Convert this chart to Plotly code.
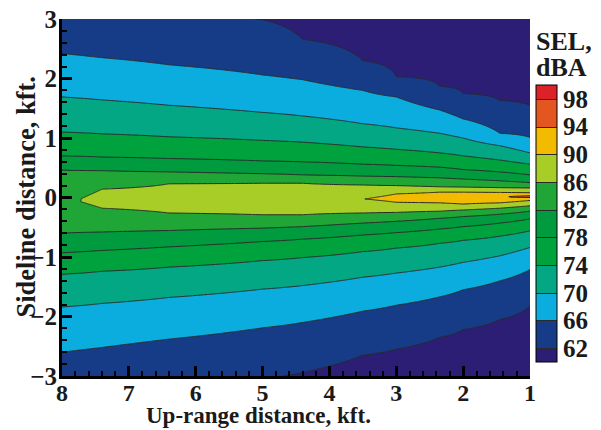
import numpy as np
import plotly.graph_objects as go

# ---- data ----
# x columns (kft up-range) at which contour crossings were read
cols_x = [8, 7.4, 6.4, 5, 4.4, 3.5, 3, 2.35, 2, 1.45, 1]
levels = [62, 66, 70, 74, 78, 82, 86, 90, 94]
cbar_ticks = [62, 66, 70, 74, 78, 82, 86, 90, 94, 98]

# y (kft) of each SEL level crossing above the centreline, per column (None = absent)
upper_62 = [None, None, None, None, 2.66, 2.30, 2.03, 1.87, 1.75, 1.63, 1.55]
upper_66 = [2.42, 2.35, 2.23, 2.06, 1.98, 1.80, 1.69, 1.47, 1.32, 1.08, 1.01]
upper_70 = [1.69, 1.64, 1.55, 1.43, 1.37, 1.24, 1.17, 1.08, 1.00, 0.87, 0.75]
upper_74 = [1.10, 1.07, 1.02, 0.96, 0.93, 0.85, 0.81, 0.75, 0.70, 0.63, 0.56]
upper_78 = [0.70, 0.68, 0.655, 0.615, 0.60, 0.56, 0.54, 0.51, 0.47, 0.43, 0.38]
upper_82 = [0.46, 0.45, 0.43, 0.40, 0.38, 0.36, 0.35, 0.33, 0.31, 0.28, 0.25]
upper_86 = [None, 0.14, 0.23, 0.24, 0.24, 0.21, 0.20, 0.18, 0.175, 0.165, 0.16]
upper_90 = [None, None, None, None, None, None, 0.06, 0.09, 0.09, 0.085, 0.08]
upper_94 = [None, None, None, None, None, None, None, None, None, None, 0.03]

# y (kft) of each level crossing below the centreline
lower_62 = [None, None, None, None, -2.94, -2.65, -2.55, -2.35, -2.22, -2.05, -1.82]
lower_66 = [-2.60, -2.52, -2.38, -2.19, -2.10, -1.91, -1.81, -1.67, -1.55, -1.40, -1.21]
lower_70 = [-1.84, -1.78, -1.68, -1.54, -1.48, -1.34, -1.27, -1.17, -1.09, -0.98, -0.84]
lower_74 = [-1.29, -1.24, -1.17, -1.06, -1.01, -0.91, -0.85, -0.77, -0.72, -0.65, -0.56]
lower_78 = [-0.93, -0.89, -0.83, -0.74, -0.70, -0.63, -0.59, -0.53, -0.49, -0.43, -0.36]
lower_82 = [-0.60, -0.58, -0.555, -0.515, -0.49, -0.43, -0.40, -0.35, -0.32, -0.28, -0.23]
lower_86 = [None, -0.18, -0.26, -0.29, -0.29, -0.26, -0.25, -0.23, -0.21, -0.18, -0.14]
lower_90 = [None, None, None, None, None, None, -0.08, -0.09, -0.11, -0.09, -0.05]
lower_94 = [None, None, None, None, None, None, None, None, None, None, 0.00]

# SEL at the centreline and at the top / bottom edges (y = +3 / -3)
peak_sel = [85.4, 87.0, 87.5, 88.3, 88.8, 89.95, 91.0, 92.0, 92.5, 93.95, 96.0]
top_sel = [62.8, 62.7, 62.6, 61.95, 61.3, 60.5, 60.0, 59.5, 59.0, 58.5, 58.0]
bottom_sel = [63.9, 63.4, 62.5, 62.2, 61.8, 60.8, 60.4, 59.8, 59.5, 59.0, 58.5]

x_ticks = [1, 2, 3, 4, 5, 6, 7, 8]
y_ticks = [-3, -2, -1, 0, 1, 2, 3]
band_colors = ["#2b1e74", "#173c87", "#0badde", "#03a784", "#00a23e",
               "#009b3e", "#1fa637", "#a7cd26", "#f3bb00", "#e4561f", "#db2229"]

# ---- build the grid the contour trace needs ----
uppers = [upper_62, upper_66, upper_70, upper_74, upper_78, upper_82, upper_86, upper_90, upper_94]
lowers = [lower_62, lower_66, lower_70, lower_74, lower_78, lower_82, lower_86, lower_90, lower_94]
yy = np.linspace(-3, 3, 1201)
Z = np.zeros((len(yy), len(cols_x)))
for j in range(len(cols_x)):
    lo = [(lowers[k][j], levels[k]) for k in range(len(levels)) if lowers[k][j] is not None]
    up = [(uppers[k][j], levels[k]) for k in range(len(levels)) if uppers[k][j] is not None]
    ymid = (lo[-1][0] + up[-1][0]) / 2.0
    knots = [(-3.0, bottom_sel[j])] + lo + [(ymid, peak_sel[j])] + up[::-1] + [(3.0, top_sel[j])]
    ky = [k[0] for k in knots]
    kz = [k[1] for k in knots]
    Z[:, j] = np.interp(yy, ky, kz)

n = len(band_colors)
colorscale = [[i / (n - 1), c] for i, c in enumerate(band_colors)]

FONT = "Liberation Serif"
TXT = "#1a1a1a"

fig = go.Figure()
fig.add_trace(go.Contour(
    x=cols_x, y=yy, z=Z,
    autocontour=False,
    contours=dict(start=62, end=98, size=4, coloring="fill", showlines=True),
    line=dict(color="#2a2a2a", width=1, smoothing=0),
    colorscale=colorscale,
    colorbar=dict(
        x=1.0128, xanchor="left", xpad=0, ypad=0,
        y=0.427, yanchor="middle",
        len=277, lenmode="pixels", thickness=21,
        outlinewidth=1, outlinecolor="black",
        tickmode="array", tickvals=cbar_ticks,
        ticktext=[str(v) for v in cbar_ticks],
        ticks="",
        tickfont=dict(family=FONT, size=25, color=TXT, weight="bold"),
    ),
    hoverinfo="skip",
))

axis_common = dict(
    showgrid=False, zeroline=False, automargin=False,
    showline=True, linewidth=3, linecolor="black",
    ticks="inside", ticklen=10, tickwidth=3, tickcolor="black",
    ticklabeloverflow="allow",
    mirror=False,
)

# the page shows the figure inset by the browser's 8px body margin
fig.update_layout(
    width=593, height=422,
    margin=dict(l=54, r=71, t=11, b=54),
    paper_bgcolor="white", plot_bgcolor="white",
    xaxis=dict(range=[8, 1], tickmode="array", tickvals=x_ticks, ticklabelstandoff=-7,
               tickfont=dict(family=FONT, size=24, color=TXT, weight="bold"),
               minor=dict(ticks="inside", ticklen=5, tickwidth=1.5, tickcolor="black", dtick=0.2, showgrid=False),
               **axis_common),
    yaxis=dict(range=[-3, 3], tickmode="array", tickvals=y_ticks, ticklabelstandoff=-3,
               tickfont=dict(family=FONT, size=25, color=TXT, weight="bold"),
               minor=dict(ticks="inside", ticklen=5, tickwidth=1.5, tickcolor="black", dtick=0.2, showgrid=False),
               **axis_common),
    annotations=[
        dict(text="Up-range distance, kft.", xref="paper", yref="paper",
             x=0.419, y=-0.112, xanchor="center", yanchor="middle", showarrow=False,
             font=dict(family=FONT, size=23, color=TXT, weight="bold")),
        dict(text="Sideline distance, kft.", xref="paper", yref="paper",
             x=-0.079, y=0.5, xanchor="center", yanchor="middle", showarrow=False, textangle=-90,
             font=dict(family=FONT, size=26.5, color=TXT, weight="bold")),
        dict(text="SEL,", xref="paper", yref="paper", align="left",
             x=1.008, y=0.936, xanchor="left", yanchor="middle", showarrow=False,
             font=dict(family=FONT, size=26, color=TXT, weight="bold")),
        dict(text="dBA", xref="paper", yref="paper", align="left",
             x=1.008, y=0.863, xanchor="left", yanchor="middle", showarrow=False,
             font=dict(family=FONT, size=26, color=TXT, weight="bold")),
    ],
)

fig.write_html("out.html")
